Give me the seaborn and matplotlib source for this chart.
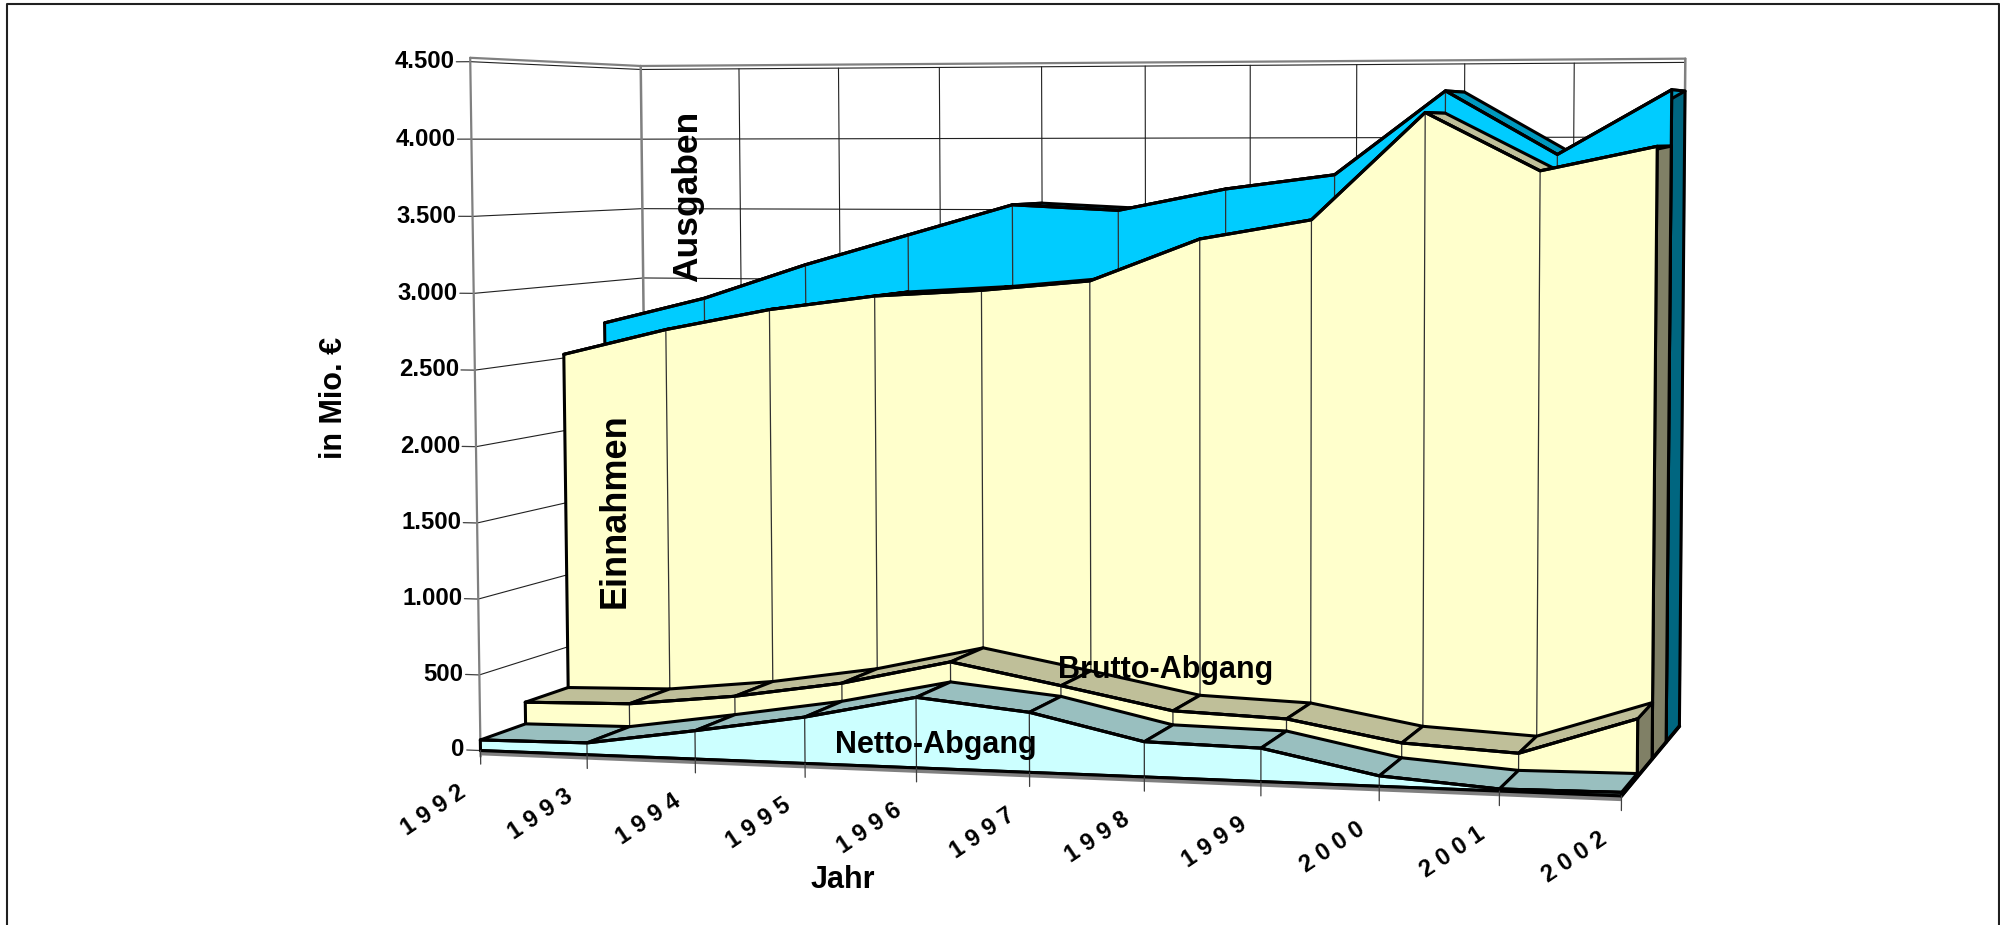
import numpy as np
import pandas as pd
import matplotlib
matplotlib.use("Agg")
import matplotlib.pyplot as plt
import seaborn as sns

years = ["1992","1993","1994","1995","1996","1997","1998","1999","2000","2001","2002"]
netto = [70,78,185,300,453,383,223,210,65,13,22]
brutto = [217,232,308,420,585,453,314,288,160,122,368]
einnahmen = [2525,2703,2846,2944,2988,3056,3337,3465,4160,3784,3940]
ausgaben = [2708,2888,3127,3337,3546,3510,3656,3752,4308,3886,4308]
y_ticks = [0,500,1000,1500,2000,2500,3000,3500,4000,4500]
y_labels = ["0","500","1.000","1.500","2.000","2.500","3.000","3.500","4.000","4.500"]

# camera calibration of the 3D box: (year index, value, depth) -> picture pixel
calib = [
 (0,0,0,479,749),(10,0,0,1621,799),(5,0,0,1028,773),(0,4500,0,471,62),(0,3000,0,473,293),
 (0,0,.25,528,732),(10,0,.25,1638,778),(10,0,.5,1653,759),(0,0,.5,570,717),
 (10,0,.75,1666,741),(0,0,.75,609,705),(10,0,1,1679,722),(0,0,1,647,695),
 (0,4500,1,641,68),(10,4500,1,1686,64),(5,4500,1,1144,66),(0,2500,1,644,347),
]
A, b = [], []
for i,v,d,x,y in calib:
    X,Y,Z = i/10, v/4500, d
    A.append([X,Y,Z,1,0,0,0,0,-x*X,-x*Y,-x*Z]); b.append(x)
    A.append([0,0,0,0,X,Y,Z,1,-y*X,-y*Y,-y*Z]); b.append(y)
P = np.linalg.lstsq(np.array(A,float),np.array(b,float),rcond=None)[0]
P = np.append(P,1).reshape(3,4)

def pr(i,v,d):
    h = P @ np.array([i/10,v/4500,d,1.0])
    return (h[0]/h[2],h[1]/h[2])

sns.set_theme(style="white")
plt.rcParams['font.family'] = ['Liberation Sans','DejaVu Sans']
fig = plt.figure(figsize=(20,9.25),dpi=100,facecolor="white")
ax = fig.add_axes([0,0,1,1])
ax.set_xlim(0,2000); ax.set_ylim(925,0); ax.axis("off")

def line(p,q,c="black",lw=0.8,z=1):
    ax.plot([p[0],q[0]],[p[1],q[1]],color=c,lw=lw,zorder=z,solid_capstyle="round")

# outer frame
ax.plot([6.5,6.5,1998.5,1998.5],[925,3.5,3.5,925],color="#202020",lw=1.5,zorder=0)

# walls and grid
for v in y_ticks:
    line(pr(-0.13,v,0),pr(0,v,0),"#404040",0.9)
    line(pr(0,v,0),pr(0,v,1),"#202020",0.8)
    line(pr(0,v,1),pr(10,v,1),"#202020",0.8)
for i in range(1,10):
    line(pr(i,0,1),pr(i,4500,1),"#202020",0.8)
line(pr(0,-40,0),pr(0,4525,0),"#808080",1.6,2)
line(pr(0,4525,0),pr(0,4525,1),"#808080",1.6,2)
line(pr(0,4525,1),pr(10,4525,1),"#808080",1.6,2)
line(pr(0,0,1),pr(0,4525,1),"#808080",1.8,2)
line(pr(10,0,1),pr(10,4525,1),"#808080",1.8,2)

series = [
 ("Ausgaben",ausgaben,.75,1,"#00CCFF","#0099BF","#006680"),
 ("Einnahmen",einnahmen,.5,.75,"#FFFFCC","#BFBF99","#808066"),
 ("Brutto-Abgang",brutto,.25,.5,"#FFFFCC","#BFBF99","#808066"),
 ("Netto-Abgang",netto,0,.25,"#CCFFFF","#99BFBF","#668080"),
]
z = 3
LW = 2.2
for name,vals,d0,d1,front,top,side in series:
    # right end face
    ax.fill(*zip(pr(10,0,d0),pr(10,0,d1),pr(10,vals[10],d1),pr(10,vals[10],d0)),
            fc=side,ec="black",lw=LW,zorder=z,joinstyle="round")
    # top faces
    for i in range(10):
        ax.fill(*zip(pr(i,vals[i],d0),pr(i+1,vals[i+1],d0),pr(i+1,vals[i+1],d1),pr(i,vals[i],d1)),
                fc=top,ec="black",lw=LW,zorder=z+0.1,joinstyle="round")
    # front face
    n = np.arange(11)
    pts = [pr(i,vals[i],d0) for i in n]
    poly = [pr(0,0,d0)] + pts + [pr(10,0,d0)]
    ax.fill(*zip(*poly),fc=front,ec="black",lw=LW,zorder=z+0.2,joinstyle="round")
    # year lines on the front face
    for i in range(1,10):
        line(pr(i,vals[i],d0),pr(i,0,d0),"#303030",0.9,z+0.3)
    df = pd.DataFrame({"x":[p[0] for p in pts],"y":[p[1] for p in pts]})
    sns.lineplot(data=df,x="x",y="y",sort=False,estimator=None,color="black",lw=LW,ax=ax,zorder=z+0.4)
    z += 1

# base plate
ax.fill(*zip(pr(0,0,0),pr(10,0,0),pr(10,-32,0),pr(0,-32,0)),fc="#808080",ec="none",zorder=z)
line(pr(0,0,0),pr(10,0,0),"black",LW,z+.1)
line(pr(10,0,0),pr(10,0,1),"black",LW+0.4,z+.1)
ax.set_xlim(0,2000); ax.set_ylim(925,0); ax.axis("off")
for i,y in enumerate(years):
    line(pr(i,0,0),pr(i,-90,0),"#404040",0.9,z+.2)
    px,py = pr(i,-130,0)
    ax.text(px-17,py+20," ".join(y),rotation=34,rotation_mode="anchor",ha="right",va="center",
            fontsize=17,fontweight="bold",color="black",zorder=z+1)
for v,l in zip(y_ticks,y_labels):
    px,py = pr(-0.13,v,0)
    ax.text(px-2,py,l,ha="right",va="center",fontsize=17.2,fontweight="bold",color="black",zorder=z+1)

tk = dict(ha="center",va="center",fontweight="bold",color="black",zorder=z+2)
ax.text(334,398,"in Mio. €",rotation=90,fontsize=22,**tk)
ax.text(843,880,"Jahr",fontsize=22,**tk)
ax.text(688,196,"Ausgaben",rotation=90,fontsize=25.5,**tk)
ax.text(615,511,"Einnahmen",rotation=90,fontsize=26,**tk)
ax.text(1166,670,"Brutto-Abgang",fontsize=22,**tk)
ax.text(936,745,"Netto-Abgang",fontsize=22,**tk)

fig.savefig("out.png",dpi=100)
